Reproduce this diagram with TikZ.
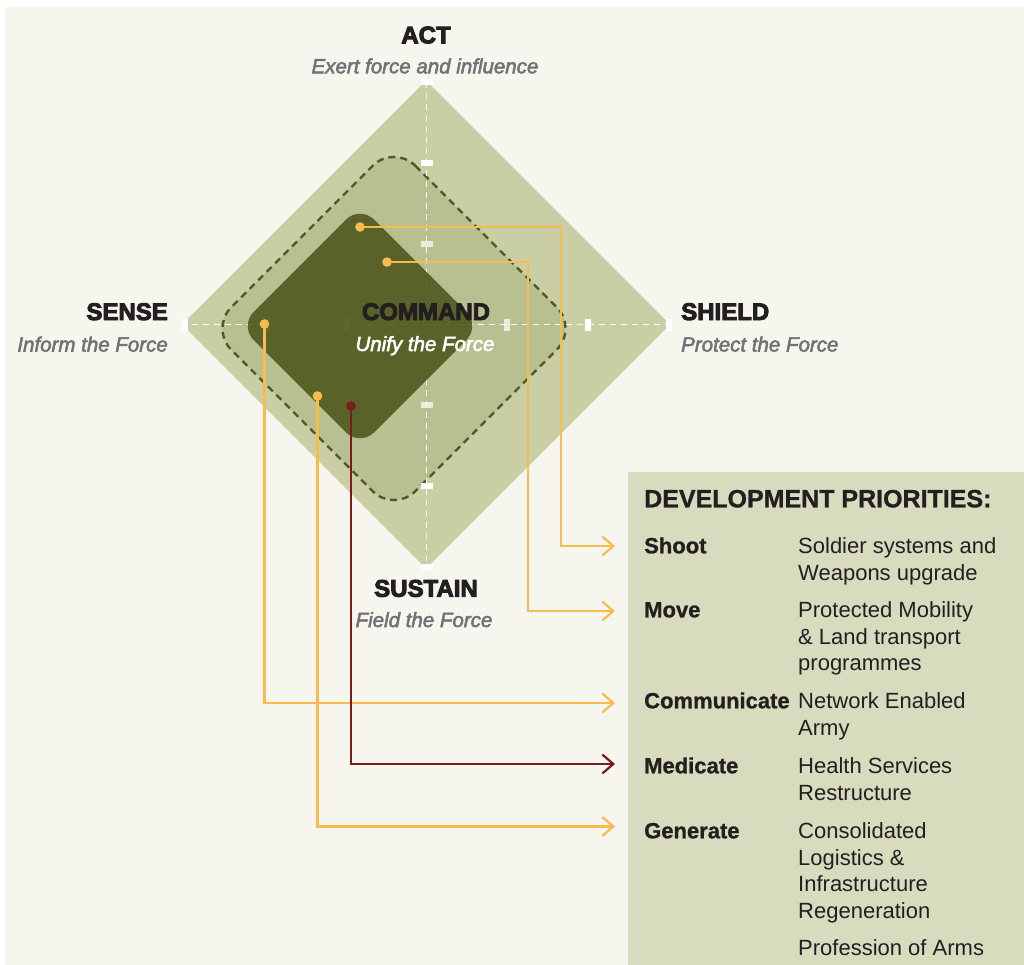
\documentclass[tikz,border=0pt]{standalone}
\usepackage{fontspec}
\setmainfont{Liberation Sans}
\newfontfamily\headfont{Liberation Sans Bold}[FakeBold=4]
\newfontfamily\subfont{Liberation Sans Italic}[FakeBold=2.5]
\newfontfamily\boldfont{Liberation Sans Bold}[FakeBold=1]
\usetikzlibrary{arrows.meta}
\definecolor{bgcream}{HTML}{F6F5EE}
\definecolor{outerc}{HTML}{C9CEA4}
\definecolor{midc}{HTML}{B8BF90}
\definecolor{darkol}{HTML}{4F5A1E}
\definecolor{boxc}{HTML}{D9DBBF}
\definecolor{orangec}{HTML}{F9BA4E}
\definecolor{redc}{HTML}{7A1C1E}
\definecolor{grayc}{HTML}{727276}
\definecolor{inkc}{HTML}{231F20}
\tikzset{
  axisline/.style={white, line width=1.6pt, dash pattern=on 6pt off 5pt},
  title/.style={anchor=base, inner sep=0pt, text=inkc, font=\headfont\fontsize{24}{28}\selectfont},
  subtitle/.style={anchor=base, inner sep=0pt, text=grayc, font=\subfont\fontsize{20.5}{24}\selectfont},
  lab/.style={anchor=base west, inner sep=0pt, text=inkc, font=\boldfont\fontsize{22}{26.6}\selectfont},
  desc/.style={anchor=north west, inner sep=0pt, align=left, text=inkc, font=\fontsize{22}{26.6}\selectfont},
  conn/.style={line width=2.2pt, -{Straight Barb[length=11pt,width=19pt]}},
  dotc/.style={radius=4.8pt}
}
\begin{document}
\begin{tikzpicture}[x=1pt,y=-1pt]
\useasboundingbox (0,0) rectangle (1024,965);
\fill[white] (0,0) rectangle (1024,965);
\fill[bgcream] (5,7) rectangle (1024,965);
% outer diamond
\fill[outerc] (426,80.5) -- (670,324.5) -- (426,568.5) -- (182,324.5) -- cycle;
% middle rounded diamond
\filldraw[fill=midc, draw=darkol, line width=2.4pt, dash pattern=on 7pt off 5pt, rounded corners=30pt]
  (394,144.5) -- (578,328.5) -- (394,512.5) -- (210,328.5) -- cycle;
% axes
\draw[axisline] (426.5,82) -- (426.5,567);
\draw[axisline] (181,324.5) -- (668,324.5);
\foreach \d in {161,242}{
  \fill[white] (426.5-6,324.5-\d-3) rectangle ++(12,6);
  \fill[white] (426.5-6,324.5+\d-3) rectangle ++(12,6);
  \fill[white] (426.5-\d-3,324.5-6) rectangle ++(6,12);
  \fill[white] (426.5+\d-3,324.5-6) rectangle ++(6,12);
}
\foreach \d in {80}{
  \fill[white,opacity=0.7] (426.5-6,324.5-\d-3) rectangle ++(12,6);
  \fill[white,opacity=0.7] (426.5-6,324.5+\d-3) rectangle ++(12,6);
  \fill[white,opacity=0.7] (426.5-\d-3,324.5-6) rectangle ++(6,12);
  \fill[white,opacity=0.7] (426.5+\d-3,324.5-6) rectangle ++(6,12);
}
% inner dark rounded diamond
\fill[darkol, fill opacity=0.9, rounded corners=20pt]
  (360,205.5) -- (480.5,326) -- (360,446.5) -- (239.5,326) -- cycle;

% titles
\node[title] (act) at (426,43.3) {ACT};
\node[subtitle] (actS) at (425,73.3) {Exert force and influence};
\node[title, anchor=base east] (sense) at (168,320) {SENSE};
\node[subtitle, anchor=base east] (senseS) at (168,351.5) {Inform the Force};
\node[title, anchor=base west] (shield) at (681,320) {SHIELD};
\node[subtitle, anchor=base west] (shieldS) at (681,351.5) {Protect the Force};
\node[title] (command) at (426,320) {COMMAND};
\node[subtitle, text=white] (commandS) at (425,351) {Unify the Force};
\node[title] (sustain) at (426,596.7) {SUSTAIN};
\node[subtitle] (sustainS) at (424,627) {Field the Force};

% development priorities box
\fill[boxc] (628,472) rectangle (1024,965);
\node[anchor=base west, inner sep=0pt, text=inkc, font=\boldfont\fontsize{25}{30}\selectfont] (head) at (644,507.3) {DEVELOPMENT PRIORITIES:};
\node[lab] (shootL) at (644,553.3) {Shoot};
\node[desc] (shootD) at (798,536.3) {\rule{0pt}{17pt}Soldier systems and\\Weapons upgrade};
\node[lab] (moveL) at (644,617.3) {Move};
\node[desc] (moveD) at (798,600.3) {\rule{0pt}{17pt}Protected Mobility\\\& Land transport\\programmes};
\node[lab] (commL) at (644,708.3) {Communicate};
\node[desc] (commD) at (798,691.3) {\rule{0pt}{17pt}Network Enabled\\Army};
\node[lab] (medL) at (644,773.3) {Medicate};
\node[desc] (medD) at (798,756.3) {\rule{0pt}{17pt}Health Services\\Restructure};
\node[lab] (genL) at (644,838.3) {Generate};
\node[desc] (genD) at (798,821.3) {\rule{0pt}{17pt}Consolidated\\Logistics \&\\Infrastructure\\Regeneration};
\node[desc] (profD) at (798,938) {\rule{0pt}{17pt}Profession of Arms};

% connector coordinates
\coordinate (shootS) at (360,227);
\coordinate (shootK) at (561,546);
\coordinate (shootT) at (615,546);
\coordinate (moveS) at (387,262);
\coordinate (moveK) at (528,611);
\coordinate (moveT) at (615,611);
\coordinate (commS) at (264.5,324);
\coordinate (commT) at (615,703);
\coordinate (medS) at (351,406);
\coordinate (medT) at (615,764);
\coordinate (genS) at (317.5,396);
\coordinate (genT) at (615,826.5);

\draw[conn, orangec] (shootS) -| (shootK) -- (shootT);
\draw[conn, orangec] (moveS) -| (moveK) -- (moveT);
\draw[conn, orangec] (commS) |- (commT);
\draw[conn, orangec] (genS) |- (genT);
\draw[conn, redc] (medS) |- (medT);
\fill[orangec] (shootS) circle[dotc];
\fill[orangec] (moveS) circle[dotc];
\fill[orangec] (commS) circle[dotc];
\fill[orangec] (genS) circle[dotc];
\fill[redc] (medS) circle[dotc];
\end{tikzpicture}
\end{document}
